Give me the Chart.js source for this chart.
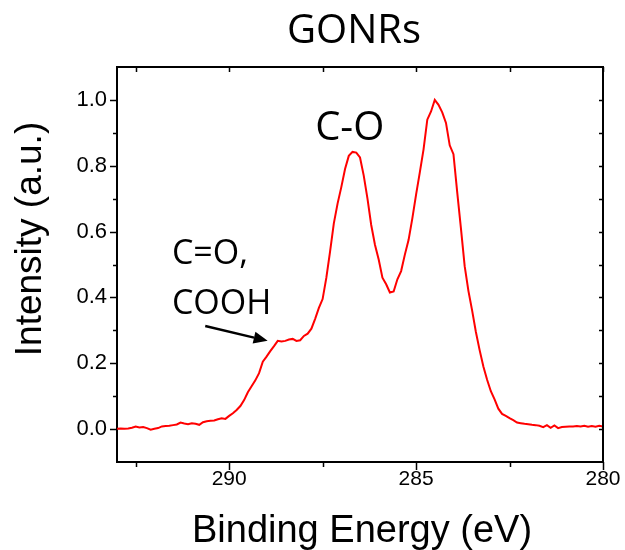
<!DOCTYPE html>
<html>
<head>
<meta charset="utf-8">
<script src="https://cdn.jsdelivr.net/npm/chart.js@4/dist/chart.umd.min.js"></script>
<style>
  html, body { margin: 0; padding: 0; background: #ffffff; }
  #wrap { width: 625px; height: 550px; position: relative; }
</style>
</head>
<body>
<div id="wrap"><canvas id="c" width="625" height="550"></canvas></div>
<script>
// C 1s spectrum of GONRs, normalised intensity vs binding energy (eV)
const bindingEnergy = [
  293.0, 292.9, 292.8, 292.7, 292.6, 292.5, 292.4, 292.3, 292.2, 292.1,
  292.0, 291.9, 291.8, 291.7, 291.6, 291.5, 291.4, 291.3, 291.2, 291.1,
  291.0, 290.9, 290.8, 290.7, 290.6, 290.5, 290.4, 290.3, 290.2, 290.1,
  290.0, 289.9, 289.8, 289.7, 289.6, 289.5, 289.4, 289.3, 289.2, 289.1,
  289.0, 288.9, 288.8, 288.7, 288.6, 288.5, 288.4, 288.3, 288.2, 288.1,
  288.0, 287.9, 287.8, 287.7, 287.6, 287.5, 287.4, 287.3, 287.2, 287.1,
  287.0, 286.9, 286.8, 286.7, 286.6, 286.5, 286.4, 286.3, 286.2, 286.1,
  286.0, 285.9, 285.8, 285.7, 285.6, 285.5, 285.4, 285.3, 285.2, 285.1,
  285.0, 284.9, 284.8, 284.7, 284.6, 284.5, 284.4, 284.3, 284.2, 284.1,
  284.0, 283.9, 283.8, 283.7, 283.6, 283.5, 283.4, 283.3, 283.2, 283.1,
  283.0, 282.9, 282.8, 282.7, 282.6, 282.5, 282.4, 282.3, 282.2, 282.1,
  282.0, 281.9, 281.8, 281.7, 281.6, 281.5, 281.4, 281.3, 281.2, 281.1,
  281.0, 280.9, 280.8, 280.7, 280.6, 280.5, 280.4, 280.3, 280.2, 280.1,
  280.0
];
const intensity = [
  0.001, 0.002, 0.001, 0.002, 0.004, 0.008, 0.005, 0.006, 0.003, -0.002,
  0.001, 0.003, 0.008, 0.009, 0.010, 0.012, 0.014, 0.020, 0.017, 0.015,
  0.018, 0.016, 0.013, 0.021, 0.024, 0.025, 0.026, 0.030, 0.033, 0.031,
  0.040, 0.048, 0.058, 0.070, 0.088, 0.112, 0.130, 0.148, 0.170, 0.205,
  0.220, 0.237, 0.252, 0.268, 0.266, 0.268, 0.272, 0.274, 0.268, 0.270,
  0.283, 0.290, 0.305, 0.335, 0.368, 0.395, 0.460, 0.540, 0.625, 0.685,
  0.735, 0.790, 0.830, 0.842, 0.840, 0.825, 0.770, 0.700, 0.620, 0.560,
  0.515, 0.460, 0.440, 0.415, 0.418, 0.455, 0.480, 0.530, 0.575, 0.640,
  0.712, 0.780, 0.850, 0.940, 0.965, 1.000, 0.985, 0.962, 0.930, 0.862,
  0.835, 0.720, 0.610, 0.495, 0.420, 0.360, 0.295, 0.240, 0.190, 0.150,
  0.115, 0.090, 0.062, 0.046, 0.040, 0.033, 0.027, 0.020, 0.018, 0.016,
  0.015, 0.013, 0.012, 0.010, 0.006, 0.012, 0.004, 0.011, 0.003, 0.006,
  0.007, 0.008, 0.008, 0.009, 0.008, 0.010, 0.007, 0.009, 0.007, 0.010,
  0.008
];

// Axis ticks
const xMajorTicks = [290, 285, 280];
const xMinorTicks = [292.5, 287.5, 282.5];
const yMajorTicks = [0.0, 0.2, 0.4, 0.6, 0.8, 1.0];
const yMinorTicks = [0.1, 0.3, 0.5, 0.7, 0.9];

// Peak annotations (text, binding energy, intensity at text baseline)
const peakLabels = [
  { text: 'C-O',   be: 287.70, y: 0.878, size: 40 },
  { text: 'C=O,',  be: 291.53, y: 0.502, size: 34 },
  { text: 'COOH',  be: 291.53, y: 0.349, size: 34 }
];
// Arrow pointing at the carboxyl shoulder: [from, to] in (eV, intensity)
const arrowFrom = [290.64, 0.313];
const arrowTo = [288.97, 0.268];

const AXIS_FONT = '"Liberation Sans", Arial, sans-serif';
const LABEL_FONT = '"Open Sans", "Noto Sans", sans-serif';

const frameAndText = {
  id: 'frameAndText',
  afterDraw(chart) {
    const { ctx, chartArea: a, scales: { x, y } } = chart;
    ctx.save();
    ctx.strokeStyle = '#000';
    ctx.fillStyle = '#000';

    // top and right frame lines
    ctx.lineWidth = 2;
    ctx.beginPath();
    ctx.moveTo(a.left, a.top);
    ctx.lineTo(a.right, a.top);
    ctx.lineTo(a.right, a.bottom);
    ctx.stroke();

    // tick marks
    ctx.lineWidth = 1.5;
    ctx.beginPath();
    xMajorTicks.forEach(v => {
      const px = Math.round(x.getPixelForValue(v)) + 0.5;
      ctx.moveTo(px, a.bottom); ctx.lineTo(px, a.bottom + 8);
      ctx.moveTo(px, a.top); ctx.lineTo(px, a.top + 5);
    });
    xMinorTicks.forEach(v => {
      const px = Math.round(x.getPixelForValue(v)) + 0.5;
      ctx.moveTo(px, a.bottom); ctx.lineTo(px, a.bottom + 5);
      ctx.moveTo(px, a.top); ctx.lineTo(px, a.top + 5);
    });
    yMajorTicks.forEach(v => {
      const py = Math.round(y.getPixelForValue(v)) + 0.5;
      ctx.moveTo(a.left, py); ctx.lineTo(a.left - 7, py);
      ctx.moveTo(a.right, py); ctx.lineTo(a.right - 4, py);
    });
    yMinorTicks.forEach(v => {
      const py = Math.round(y.getPixelForValue(v)) + 0.5;
      ctx.moveTo(a.left, py); ctx.lineTo(a.left - 4, py);
      ctx.moveTo(a.right, py); ctx.lineTo(a.right - 4, py);
    });
    ctx.stroke();

    // chart title
    ctx.textAlign = 'center';
    ctx.textBaseline = 'alphabetic';
    ctx.font = '40px ' + LABEL_FONT;
    ctx.fillText('GONRs', 354, 43);

    // axis titles
    ctx.font = '38px ' + AXIS_FONT;
    ctx.fillText('Binding Energy (eV)', 362, 542);
    ctx.save();
    ctx.translate(41, 239);
    ctx.rotate(-Math.PI / 2);
    ctx.font = '37px ' + AXIS_FONT;
    ctx.fillText('Intensity (a.u.)', 0, 0);
    ctx.restore();

    // peak annotations
    ctx.textAlign = 'left';
    peakLabels.forEach(l => {
      ctx.font = l.size + 'px ' + LABEL_FONT;
      ctx.fillText(l.text, x.getPixelForValue(l.be), y.getPixelForValue(l.y));
    });

    // arrow
    const x0 = x.getPixelForValue(arrowFrom[0]), y0 = y.getPixelForValue(arrowFrom[1]);
    const x1 = x.getPixelForValue(arrowTo[0]), y1 = y.getPixelForValue(arrowTo[1]);
    const ang = Math.atan2(y1 - y0, x1 - x0);
    const head = 14, half = 6;
    const bx = x1 - head * Math.cos(ang), by = y1 - head * Math.sin(ang);
    ctx.lineWidth = 2.5;
    ctx.beginPath();
    ctx.moveTo(x0, y0);
    ctx.lineTo(bx, by);
    ctx.stroke();
    ctx.beginPath();
    ctx.moveTo(x1, y1);
    ctx.lineTo(bx + half * Math.sin(ang), by - half * Math.cos(ang));
    ctx.lineTo(bx - half * Math.sin(ang), by + half * Math.cos(ang));
    ctx.closePath();
    ctx.fill();
    ctx.restore();
  }
};

const points = bindingEnergy.map((be, i) => ({ x: be, y: intensity[i] }));

new Chart(document.getElementById('c'), {
  type: 'line',
  data: {
    datasets: [{
      data: points,
      borderColor: '#ff0000',
      borderWidth: 2,
      pointRadius: 0,
      tension: 0,
      fill: false
    }]
  },
  options: {
    responsive: false,
    animation: false,
    layout: { padding: { top: 67, right: 22, left: 0, bottom: 0 } },
    plugins: { legend: { display: false }, tooltip: { enabled: false }, title: { display: false } },
    scales: {
      x: {
        type: 'linear',
        reverse: true,
        min: 280,
        max: 293,
        afterBuildTicks: s => { s.ticks = xMajorTicks.map(v => ({ value: v })); },
        afterFit: s => { s.height = 88; },
        grid: { display: false, drawTicks: true, tickLength: 8 },
        border: { display: true, color: '#000', width: 2 },
        ticks: {
          color: '#000',
          padding: -3,
          maxRotation: 0,
          font: { family: AXIS_FONT, size: 21 },
          callback: v => String(v)
        }
      },
      y: {
        type: 'linear',
        min: -0.1,
        max: 1.1,
        afterBuildTicks: s => { s.ticks = yMajorTicks.map(v => ({ value: v })); },
        afterFit: s => { s.width = 117; },
        grid: { display: false, drawTicks: true, tickLength: 7 },
        border: { display: true, color: '#000', width: 2 },
        ticks: {
          color: '#000',
          padding: 3,
          font: { family: AXIS_FONT, size: 22 },
          callback: v => Number(v).toFixed(1)
        }
      }
    }
  },
  plugins: [frameAndText]
});
</script>
</body>
</html>
